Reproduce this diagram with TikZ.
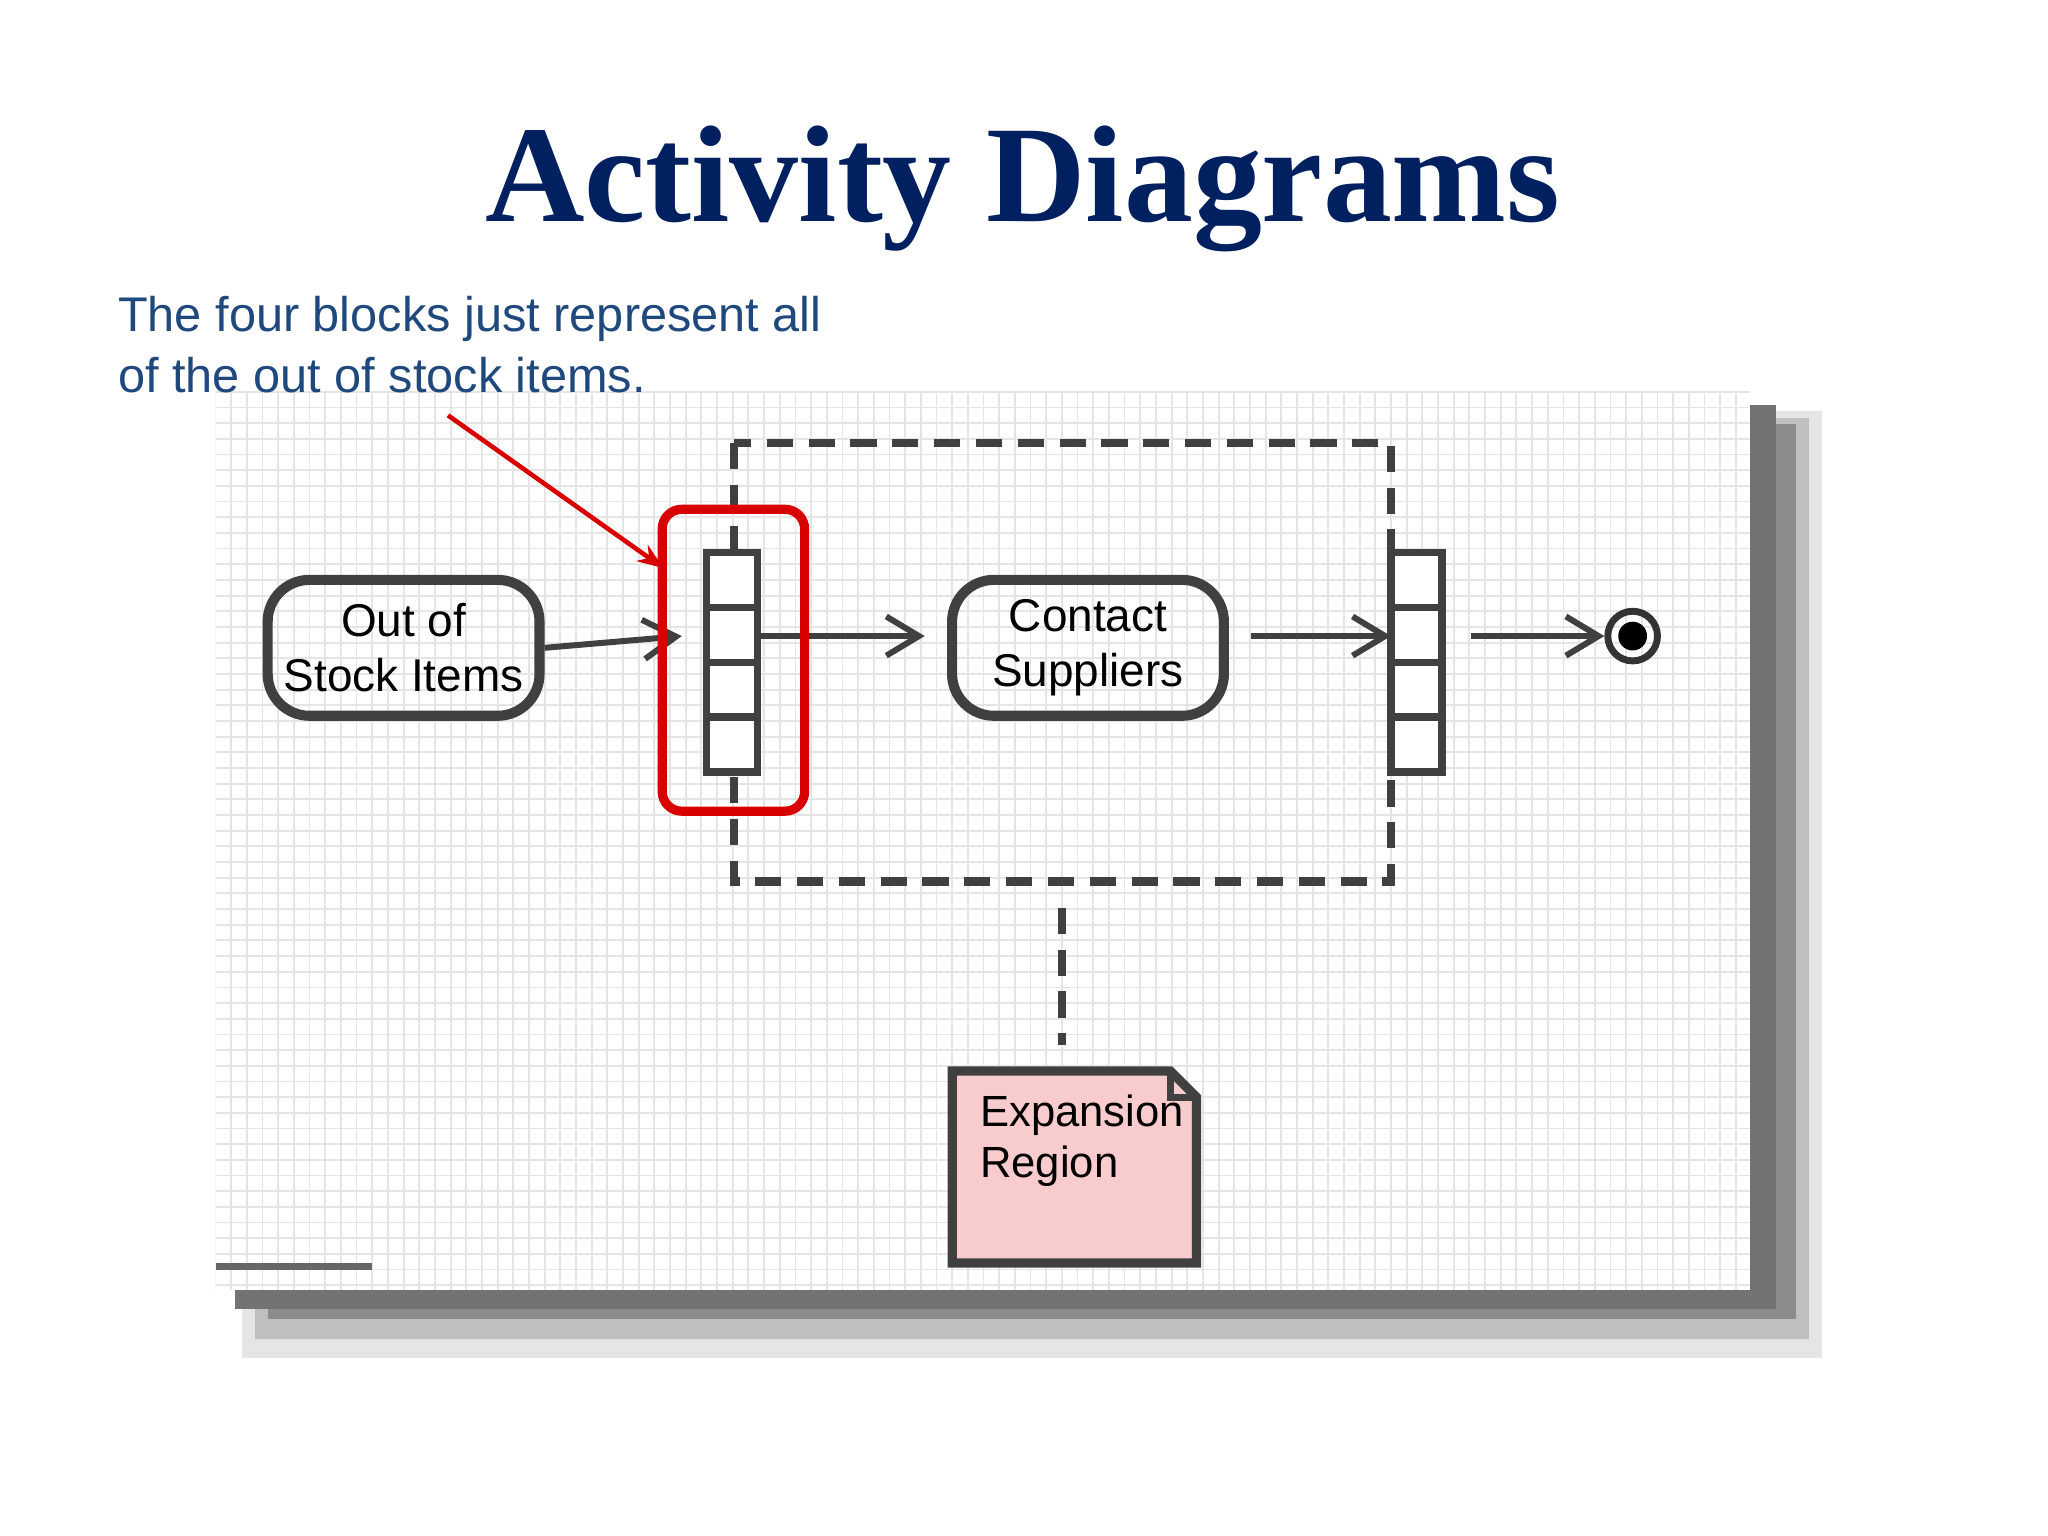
\documentclass[tikz,border=0pt]{standalone}
\usepackage{fontspec}
\setmainfont{Liberation Sans}
\newfontfamily\titlefont{Liberation Serif}
\usetikzlibrary{arrows.meta}
\definecolor{navy}{RGB}{0,32,96}
\definecolor{anno}{RGB}{31,73,125}
\definecolor{notepink}{RGB}{248,204,204}
\begin{document}
\begin{tikzpicture}[x=0.01cm,y=-0.01cm,
  act/.style={draw=black!75,line width=2.2pt,rounded corners=0.32cm,minimum width=2.08cm,minimum height=1.04cm,align=center,font=\fontsize{10}{12}\selectfont,inner sep=0},
  pin/.style={draw=black!75,line width=1.6pt,fill=white,minimum width=0.39cm,minimum height=0.42cm,inner sep=0},
  flow/.style={draw=black!75,line width=1.3pt,-{Straight Barb[length=0.25cm,width=0.3cm]}}]
\useasboundingbox (0,0) rectangle (1568,1176);
\fill[white] (0,0) rectangle (1568,1176);
% shadow
\fill[black!10] (185,315) rectangle (1395,1040);
\fill[black!25] (195,320) rectangle (1385,1025);
\fill[black!45] (205,325) rectangle (1375,1010);
\fill[black!55] (1340,310) rectangle (1360,990);
\fill[black!55] (180,988) rectangle (1360,1002);
% grid area
\fill[white] (165,300) rectangle (1340,988);
\begin{scope}
\clip (165,300) rectangle (1340,988);
\foreach \x in {165,177,...,1340} \draw[black!10,line width=0.4pt] (\x,300) -- (\x,988);
\foreach \y in {300,312,...,988} \draw[black!10,line width=0.4pt] (165,\y) -- (1340,\y);
\end{scope}
\draw[black!60,line width=1.5pt] (165,970) -- (285,970);
% title
\node (title) at (783,145) {\titlefont\bfseries\fontsize{30}{34}\selectfont\color{navy}Activity Diagrams};
\node[anchor=west,align=left,text=anno,font=\fontsize{10.6}{13.2}\selectfont] (anno) at (78,264) {The four blocks just represent all\\of the out of stock items.};
% expansion region
\draw[black!75,line width=1.8pt,dash pattern=on 0.2cm off 0.12cm] (562,339) rectangle (1065,675);
% nodes
\node[act] (oos) at (309,496) {Out of\\Stock Items};
\node[act] (cs) at (833,496) {Contact\\Suppliers};
\foreach \i/\y in {1/444,2/486,3/528,4/570} {
  \node[pin] (l\i) at (560.5,\y) {};
  \node[pin] (r\i) at (1084.5,\y) {};
}
\coordinate (lin) at (522,487);
\coordinate (lout) at (580,487);
\coordinate (rin) at (1065,487);
\coordinate (rout) at (1126,487);
\node[circle,draw=black!80,line width=1.5pt,minimum size=0.38cm,inner sep=0] (fin) at (1250,487) {};
\fill[black] (fin) circle (0.11cm);
\draw[flow] (oos.east) -- (lin);
\draw[flow] (lout) -- (708,487) coordinate (csin);
\draw[flow] (958,487) -- (rin);
\draw[flow] (rout) -- (fin.west);
% red highlight
\node[draw=red!85!black,line width=2pt,rounded corners=0.15cm,minimum width=1.09cm,minimum height=2.31cm] (hl) at (561.5,505.5) {};
\coordinate (annotip) at (343,318);
\draw[red!85!black,line width=1pt,-{Stealth[length=0.2cm]}] (annotip) -- (508,435);
% note
\coordinate (nt) at (813,695);
\draw[black!75,line width=1.8pt,dash pattern=on 0.2cm off 0.12cm] (nt) -- (813,800);
\draw[black!75,line width=2pt,fill=notepink] (729,820) -- (896,820) -- (916,840) -- (916,967) -- (729,967) -- cycle;
\draw[black!75,line width=1.5pt] (896,820) -- (896,840) -- (916,840);
\node[anchor=north west,align=left,font=\fontsize{9.5}{11}\selectfont] (note) at (738,826) {Expansion\\Region};
\end{tikzpicture}
\end{document}
